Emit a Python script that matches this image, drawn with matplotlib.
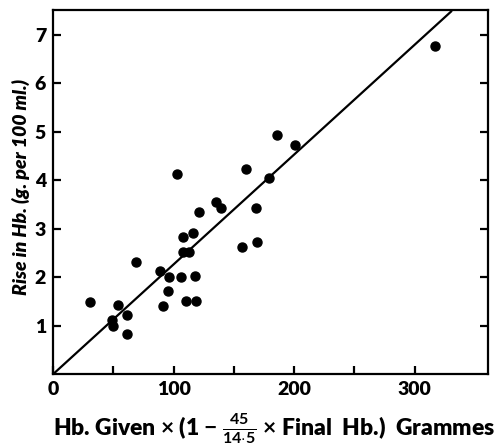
import matplotlib
matplotlib.use("Agg")
import matplotlib.pyplot as plt
import numpy as np

# Data
hb_given = [31, 54, 49, 50, 61, 61, 69, 89, 96, 91.5, 95, 102.5, 106, 108, 108, 113,
            110, 116, 118, 118.5, 121, 135.5, 139, 157, 160.5, 168, 169, 179, 186, 201, 317]
rise_hb = [1.50, 1.42, 1.12, 1.00, 1.22, 0.82, 2.32, 2.14, 2.01, 1.41, 1.72, 4.14, 2.01, 2.84, 2.53, 2.53,
           1.52, 2.92, 2.03, 1.52, 3.34, 3.55, 3.44, 2.63, 4.24, 3.43, 2.72, 4.05, 4.93, 4.72, 6.77]
line_x = [0, 331]
line_y = [0, 7.5]
x_ticks_major = [0, 100, 200, 300]
x_ticks_all = [0, 50, 100, 150, 200, 250, 300]
y_ticks = [1, 2, 3, 4, 5, 6, 7]

plt.rcParams['font.family'] = ['Lato', 'DejaVu Sans']
plt.rcParams['mathtext.fontset'] = 'custom'
plt.rcParams['mathtext.rm'] = 'Lato:bold'
plt.rcParams['mathtext.bf'] = 'Lato:bold'
plt.rcParams['mathtext.it'] = 'Lato:bold:italic'

fig = plt.figure(figsize=(4.96, 4.46), dpi=100)
ax = fig.add_axes([0.107, 0.161, 0.877, 0.817])

ax.plot(line_x, line_y, color='black', lw=1.6, solid_capstyle='butt')
ax.plot(hb_given, rise_hb, 'o', color='black', ms=6.5, mec='black')

ax.set_xlim(0, 361)
ax.set_ylim(0, 7.52)
ax.set_xticks(x_ticks_all)
ax.set_xticklabels([str(v) if v in x_ticks_major else '' for v in x_ticks_all])
ax.set_yticks(y_ticks)
ax.set_yticklabels([str(v) for v in y_ticks])

ax.tick_params(axis='both', direction='in', length=6, width=1.6, labelsize=14)
ax.tick_params(axis='y', right=True, left=True, pad=5)
ax.tick_params(axis='x', top=False, pad=5)
for lab in ax.get_xticklabels() + ax.get_yticklabels():
    lab.set_fontweight('heavy')
for s in ax.spines.values():
    s.set_linewidth(1.6)

ax.set_ylabel('Rise in Hb. (g. per 100 ml.)', fontsize=14, fontweight='heavy',
              fontstyle='italic')
ax.yaxis.set_label_coords(-0.074, 0.514)
ax.yaxis.label.set_va('center')
ax.set_xlabel(r'Hb. Given $\times$ (1 $-$ $\frac{45}{14{\cdot}5}$ $\times$ Final  Hb.)  Grammes',
              fontsize=16.5, fontweight='heavy')
ax.xaxis.set_label_coords(0.507, -0.168)
ax.xaxis.label.set_va('baseline')

fig.savefig('out.png', dpi=100)
